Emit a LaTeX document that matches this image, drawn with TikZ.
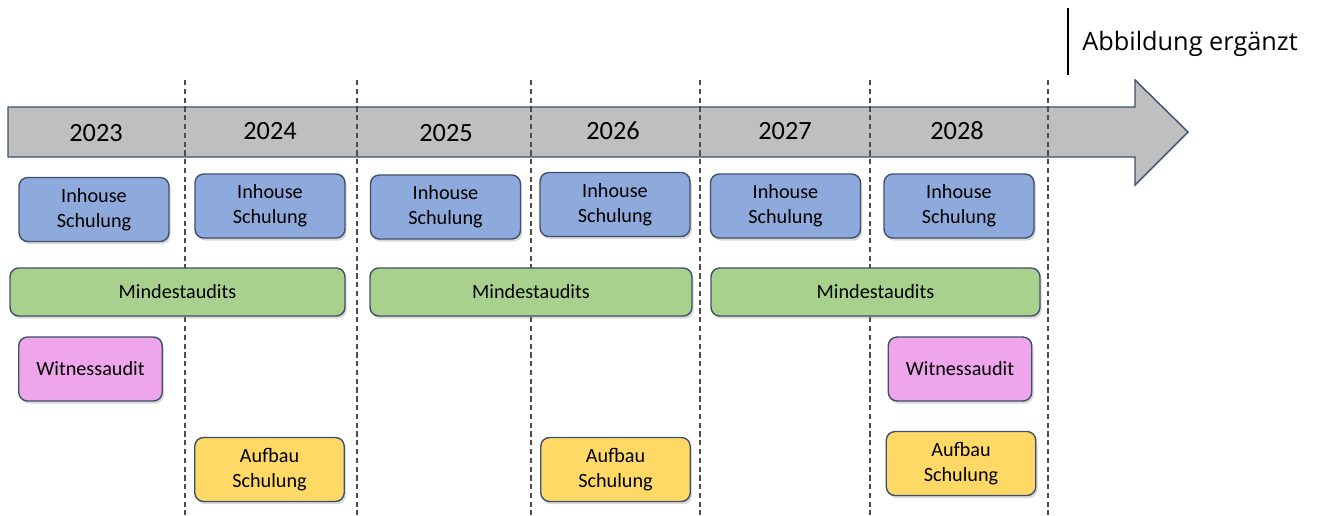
\documentclass[tikz,border=0pt]{standalone}
\usepackage{fontspec}
\setmainfont{Carlito}
\newfontfamily\notefont{Open Sans}
\usetikzlibrary{shadows}

\definecolor{arrowgray}{HTML}{BFBFBF}
\definecolor{edgeblue}{HTML}{3E4F6B}
\definecolor{inhouseblue}{HTML}{8EA9DB}
\definecolor{auditgreen}{HTML}{A9D18E}
\definecolor{witnesspink}{HTML}{EFA5EA}
\definecolor{aufbauyellow}{HTML}{FFD966}

\tikzset{
  yearbox/.style={font=\fontsize{15}{18}\selectfont},
  planbox/.style={draw=edgeblue,line width=0.8pt,rounded corners=5pt,
    align=center,inner sep=0pt,minimum height=1.28cm,
    font=\fontsize{11.5}{14}\selectfont,
    drop shadow={shadow xshift=1pt,shadow yshift=-1.5pt,opacity=0.3}},
  inhouse/.style={planbox,fill=inhouseblue,minimum width=3cm},
  audit/.style={planbox,fill=auditgreen,minimum height=0.96cm},
  witness/.style={planbox,fill=witnesspink,minimum width=2.87cm},
  aufbau/.style={planbox,fill=aufbauyellow,minimum width=2.99cm}
}

\begin{document}
\begin{tikzpicture}[x=0.02cm,y=-0.02cm]
    \useasboundingbox (0,0) rectangle (1328,515);

    % timeline arrow
    \draw[draw=edgeblue,fill=arrowgray,line width=0.8pt]
      (8,107) -- (1135,107) -- (1135,80) -- (1188,132)
      -- (1135,185) -- (1135,157) -- (8,157) -- cycle;

    % year separators
    \foreach \xpos in {185,357,531,700,870,1048}
      \draw[black!70,dash pattern=on 3pt off 2pt,line width=0.6pt]
        (\xpos,80) -- (\xpos,515);

    \node[yearbox] (y2023) at (96,133) {2023};
    \node[yearbox] (y2024) at (270,131) {2024};
    \node[yearbox] (y2025) at (446,133) {2025};
    \node[yearbox] (y2026) at (613,131) {2026};
    \node[yearbox] (y2027) at (785,131) {2027};
    \node[yearbox] (y2028) at (957,131) {2028};

    \node[inhouse] (in1) at (94,209.5) {Inhouse\\Schulung};
    \node[inhouse] (in2) at (270,206) {Inhouse\\Schulung};
    \node[inhouse] (in3) at (445.5,207) {Inhouse\\Schulung};
    \node[inhouse] (in4) at (615,204.5) {Inhouse\\Schulung};
    \node[inhouse] (in5) at (785.5,206) {Inhouse\\Schulung};
    \node[inhouse] (in6) at (959,206) {Inhouse\\Schulung};

    \node[audit,minimum width=6.7cm] (md1) at (177.5,292) {Mindestaudits};
    \node[audit,minimum width=6.44cm] (md2) at (531,292) {Mindestaudits};
    \node[audit,minimum width=6.58cm] (md3) at (875.5,292) {Mindestaudits};

    \node[witness] (wa1) at (90.5,369) {Witnessaudit};
    \node[witness] (wa2) at (960,369) {Witnessaudit};

    \node[aufbau] (au1) at (269.5,469.5) {Aufbau\\Schulung};
    \node[aufbau] (au2) at (615.5,469.5) {Aufbau\\Schulung};
    \node[aufbau] (au3) at (961,463.5) {Aufbau\\Schulung};

    % note top right
    \coordinate (notetop) at (1068,8);
    \coordinate (notebot) at (1068,75);
    \draw[black,line width=1pt] (notetop) -- (notebot);
    \node[anchor=west,inner sep=0pt,font=\notefont\fontsize{14.4}{17}\selectfont]
      (note) at (1082,44) {Abbildung ergänzt};
  \end{tikzpicture}
\end{document}
